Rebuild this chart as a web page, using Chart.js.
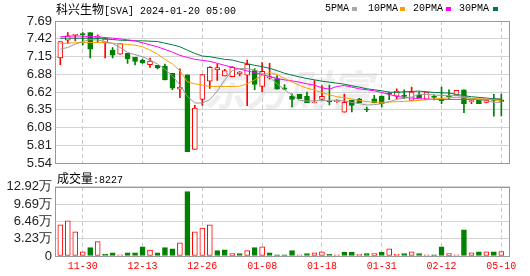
<!DOCTYPE html>
<html lang="zh">
<head>
  <meta charset="UTF-8">
  <title>科兴生物 SVA</title>
  <style>
    body { margin:0; background:#fff; width:530px; height:276px; overflow:hidden; position:relative; }
    .txt { position:absolute; font-family:"Liberation Mono", monospace; font-size:10px; line-height:12px; color:#000; white-space:nowrap; z-index:2; }
    .cjk { font-family:"Noto Sans CJK SC"; font-size:12px; }
    .sq { position:absolute; width:5px; height:4px; top:7px; z-index:2; }
    #kWrap { position:absolute; left:0; top:0; }
    #vWrap { position:absolute; left:0; top:176px; }
  </style>
</head>
<body>
  <div class="txt" style="left:56px; top:3px;"><span class="cjk">科兴生物</span>[SVA] 2024-01-20 05:00</div>
  <div class="txt" style="left:325px; top:3px;">5PMA</div><div class="sq" style="left:352px; background:#a8a8a8;"></div>
  <div class="txt" style="left:368px; top:3px;">10PMA</div><div class="sq" style="left:400px; background:#f5a300;"></div>
  <div class="txt" style="left:413px; top:3px;">20PMA</div><div class="sq" style="left:446px; background:#ff00ff;"></div>
  <div class="txt" style="left:459px; top:3px;">30PMA</div><div class="sq" style="left:493px; background:#007a3d;"></div>
  <div class="txt" style="left:57px; top:172px;"><span class="cjk">成交量</span>:8227</div>

  <div id="kWrap"><canvas id="kChart" width="530" height="174"></canvas></div>
  <div id="vWrap"><canvas id="vChart" width="530" height="100"></canvas></div>

  <script src="https://cdn.jsdelivr.net/npm/chart.js"></script>
  <script>
    const tickIdx = [3, 11, 19, 27, 35, 43, 51, 59]
    const tickLabels = ['11-30', '12-13', '12-26', '01-08', '01-18', '01-31', '02-12', '05-10']

    const priceTicks = [7.69, 7.42125, 7.1525, 6.88375, 6.615, 6.34625, 6.0775, 5.80875, 5.54]
    const priceLabels = ['7.69', '7.42', '7.15', '6.88', '6.62', '6.35', '6.08', '5.81', '5.54']
    const volTicks = [0, 32300, 64600, 96900, 129200]
    const volLabels = ['0', '3.23万', '6.46万', '9.69万', '12.92万']

    const open = [7.13, 7.40, 7.475, 7.495, 7.515, 7.44, 7.36, 7.25, 7.19, 7.20,
      7.14, 7.10, 7.03, 7.02, 7.01, 6.90, 6.66, 6.875, 5.75, 6.505,
      6.78, 6.95, 6.86, 6.85, 6.89, 6.87, 6.94, 6.70, 6.83, 6.82,
      6.67, 6.555, 6.58, 6.55, 6.45, 6.505, 6.475, 6.47, 6.31, 6.49,
      6.515, 6.355, 6.515, 6.555, 6.60, 6.555, 6.56, 6.49, 6.575, 6.505,
      6.545, 6.495, 6.555, 6.565, 6.65, 6.47, 6.49, 6.46, 6.50, 6.50]
    const close = [7.38, 7.465, 7.485, 7.485, 7.265, 7.46, 7.42, 7.175, 7.35, 7.115,
      7.08, 7.055, 7.085, 6.98, 6.80, 6.675, 6.69, 5.715, 6.375, 6.88,
      6.99, 6.985, 6.94, 6.99, 6.92, 7.035, 6.73, 6.93, 6.85, 6.66,
      6.66, 6.505, 6.515, 6.455, 6.465, 6.55, 6.465, 6.48, 6.46, 6.415,
      6.45, 6.345, 6.45, 6.44, 6.585, 6.63, 6.55, 6.615, 6.53, 6.615,
      6.535, 6.485, 6.545, 6.64, 6.44, 6.48, 6.44, 6.49, 6.49, 6.475]
    const high = [7.38, 7.515, 7.49, 7.515, 7.515, 7.48, 7.43, 7.29, 7.35, 7.20,
      7.14, 7.115, 7.13, 7.02, 7.04, 6.90, 6.965, 6.875, 6.415, 6.88,
      7.00, 7.04, 6.96, 7.00, 6.925, 7.10, 6.97, 7.06, 7.05, 6.86,
      6.73, 6.59, 6.58, 6.615, 6.79, 6.715, 6.72, 6.50, 6.585, 6.49,
      6.52, 6.39, 6.565, 6.56, 6.615, 6.665, 6.65, 6.69, 6.615, 6.615,
      6.575, 6.69, 6.65, 6.64, 6.65, 6.49, 6.49, 6.50, 6.58, 6.585]
    const low = [7.03, 7.35, 7.39, 7.33, 7.13, 7.365, 7.13, 7.13, 7.19, 7.05,
      7.025, 7.05, 6.99, 6.965, 6.80, 6.65, 6.53, 5.715, 5.75, 6.415,
      6.67, 6.79, 6.86, 6.85, 6.86, 6.41, 6.65, 6.62, 6.81, 6.66,
      6.65, 6.39, 6.515, 6.455, 6.45, 6.50, 6.42, 6.46, 6.31, 6.315,
      6.45, 6.32, 6.45, 6.39, 6.50, 6.515, 6.515, 6.49, 6.53, 6.505,
      6.495, 6.44, 6.515, 6.565, 6.305, 6.44, 6.44, 6.45, 6.25, 6.255]

    const volume = [58300, 65800, 45300, 8000, 15500, 26700, 3000, 6100, 2400, 6100,
      6100, 17300, 11200, 6100, 15500, 13600, 24800, 120400, 45300, 52200,
      58300, 9900, 11700, 4300, 4300, 9900, 15500, 17300, 6100, 2400,
      2400, 9900, 2400, 4300, 6100, 8000, 3000, 2400, 6700, 6700,
      3000, 4300, 4300, 6700, 13600, 3000, 4300, 8000, 4300, 2400,
      2400, 17300, 4300, 2400, 49000, 6100, 8000, 8000, 8000, 8227]
    // 1 = up on the previous close, 0 = down
    const volUp = [1, 1, 1, 1, 0, 1, 0, 0, 1, 0,
      0, 0, 1, 0, 0, 0, 1, 0, 1, 1,
      1, 0, 0, 1, 0, 1, 0, 1, 0, 0,
      0, 0, 1, 0, 1, 1, 0, 1, 0, 0,
      1, 0, 1, 0, 1, 1, 0, 1, 0, 1,
      0, 0, 1, 1, 0, 1, 0, 1, 0, 1]

    const ma5 = [7.264, 7.29, 7.34, 7.38, 7.41, 7.40, 7.38, 7.35, 7.29, 7.215,
      7.18, 7.15, 7.10, 7.04, 6.96, 6.86, 6.72, 6.55, 6.45, 6.45,
      6.50, 6.63, 6.80, 6.94, 6.97, 6.97, 6.95, 6.90, 6.84, 6.74,
      6.65, 6.57, 6.49, 6.48, 6.485, 6.485, 6.49, 6.495, 6.48, 6.46,
      6.44, 6.42, 6.425, 6.44, 6.47, 6.505, 6.525, 6.54, 6.58, 6.58,
      6.57, 6.565, 6.56, 6.56, 6.55, 6.515, 6.50, 6.485, 6.46, 6.46]
    const ma10 = [7.35, 7.355, 7.36, 7.365, 7.365, 7.365, 7.36, 7.355, 7.345, 7.335,
      7.325, 7.30, 7.25, 7.19, 7.11, 7.04, 6.94, 6.77, 6.74, 6.72,
      6.70, 6.70, 6.70, 6.70, 6.705, 6.74, 6.80, 6.87, 6.91, 6.88,
      6.82, 6.77, 6.715, 6.675, 6.645, 6.61, 6.575, 6.545, 6.53, 6.51,
      6.49, 6.47, 6.465, 6.46, 6.465, 6.47, 6.475, 6.48, 6.49, 6.50,
      6.51, 6.52, 6.53, 6.535, 6.53, 6.52, 6.515, 6.51, 6.50, 6.485]
    const ma20 = [7.45, 7.46, 7.465, 7.46, 7.455, 7.45, 7.44, 7.43, 7.42, 7.405,
      7.39, 7.36, 7.33, 7.30, 7.26, 7.22, 7.17, 7.14, 7.11, 7.095,
      7.08, 7.05, 7.02, 6.99, 6.965, 6.935, 6.91, 6.88, 6.85, 6.82,
      6.80, 6.785, 6.765, 6.74, 6.72, 6.68, 6.66, 6.70, 6.715, 6.69,
      6.665, 6.65, 6.635, 6.61, 6.58, 6.55, 6.535, 6.525, 6.515, 6.51,
      6.505, 6.505, 6.505, 6.505, 6.505, 6.505, 6.505, 6.505, 6.505, 6.505]
    const ma30 = [7.43, 7.43, 7.43, 7.43, 7.43, 7.425, 7.42, 7.41, 7.40, 7.395,
      7.39, 7.39, 7.385, 7.38, 7.355, 7.33, 7.30, 7.25, 7.20, 7.16,
      7.15, 7.13, 7.11, 7.10, 7.07, 7.045, 7.02, 7.00, 6.975, 6.94,
      6.90, 6.87, 6.845, 6.82, 6.80, 6.78, 6.765, 6.75, 6.735, 6.71,
      6.69, 6.665, 6.65, 6.635, 6.615, 6.61, 6.62, 6.625, 6.63, 6.62,
      6.61, 6.605, 6.60, 6.58, 6.56, 6.545, 6.535, 6.525, 6.515, 6.51]

    const RED = '#ff0000'
    const GREEN = '#008000'
    const idx = close.map((c, i) => i)
    const isUp = i => close[i] >= open[i]

    const frame = {
      id: 'frame',
      afterDraw(chart) {
        const { ctx, chartArea: a } = chart
        ctx.save()
        ctx.strokeStyle = '#999'
        ctx.lineWidth = 1
        ctx.strokeRect(Math.round(a.left) + 0.5, Math.round(a.top) + 0.5,
          Math.round(a.right - a.left) - 1, Math.round(a.bottom - a.top))
        ctx.restore()
      }
    }

    const watermark = {
      id: 'watermark',
      beforeDatasetsDraw(chart) {
        const ctx = chart.ctx
        ctx.save()
        ctx.font = 'italic bold 42px "Noto Sans CJK SC"'
        ctx.fillStyle = 'rgba(205,205,215,0.35)'
        ctx.textAlign = 'center'
        ctx.textBaseline = 'middle'
        ctx.fillText('东方财富', 288, 90)
        ctx.restore()
      }
    }

    function xScale(showLabels) {
      return {
        type: 'linear', min: -0.71, max: 60.16, offset: false,
        afterBuildTicks: s => { s.ticks = tickIdx.map(v => ({ value: v })) },
        ticks: {
          display: showLabels, autoSkip: false, maxRotation: 0, padding: 4, color: RED,
          font: { family: 'Liberation Mono', size: 10 },
          callback: (v, i) => tickLabels[i]
        },
        grid: { color: '#c8c8c8', drawTicks: false, offset: false },
        border: { display: false, dash: [4, 3] }
      }
    }

    function yScale(vals, labels) {
      return {
        min: Math.min(...vals),
        max: Math.max(...vals),
        afterBuildTicks: s => { s.ticks = vals.map(v => ({ value: v })) },
        afterFit: s => { s.width = 55 },
        ticks: {
          autoSkip: false, padding: 3, color: '#222',
          font: { family: 'Liberation Sans', size: 13 },
          callback: (v, i) => labels[i]
        },
        grid: { color: '#d4d4d4', drawTicks: false },
        border: { display: false }
      }
    }

    function maLine(label, values, color) {
      return {
        type: 'line', label: label, order: 0,
        data: idx.map(i => ({ x: i, y: values[i] })),
        borderColor: color, borderWidth: 1, pointRadius: 0, tension: 0
      }
    }

    new Chart(document.getElementById('kChart'), {
      type: 'bar',
      data: {
        datasets: [
          maLine('5PMA', ma5, '#9a9a9a'),
          maLine('10PMA', ma10, '#f5a300'),
          maLine('20PMA', ma20, '#ff00ff'),
          maLine('30PMA', ma30, '#007a3d'),
          {
            label: 'body', order: 1, grouped: false, barThickness: 5, minBarLength: 1,
            data: idx.map(i => ({ x: i, y: [open[i], close[i]] })),
            backgroundColor: ctx => isUp(ctx.dataIndex) ? '#fff' : GREEN,
            borderColor: ctx => isUp(ctx.dataIndex) ? RED : GREEN,
            borderWidth: 1, borderSkipped: false
          },
          {
            label: 'wick', order: 2, grouped: false, barThickness: 1,
            data: idx.map(i => ({ x: i, y: [low[i], high[i]] })),
            backgroundColor: ctx => isUp(ctx.dataIndex) ? RED : GREEN
          }
        ]
      },
      options: {
        responsive: false, animation: false,
        layout: { padding: { top: 21, right: 20, bottom: 6, left: 0 } },
        plugins: { legend: { display: false }, tooltip: { enabled: false } },
        scales: { x: xScale(false), y: yScale(priceTicks, priceLabels) }
      },
      plugins: [watermark, frame]
    })

    new Chart(document.getElementById('vChart'), {
      type: 'bar',
      data: {
        datasets: [{
          label: 'volume', grouped: false, barThickness: 5,
          data: idx.map(i => ({ x: i, y: volume[i] })),
          backgroundColor: ctx => volUp[ctx.dataIndex] ? '#fff' : GREEN,
          borderColor: ctx => volUp[ctx.dataIndex] ? RED : GREEN,
          borderWidth: 1, borderSkipped: false
        }]
      },
      options: {
        responsive: false, animation: false,
        layout: { padding: { top: 10, right: 20, bottom: 0, left: 0 } },
        plugins: { legend: { display: false }, tooltip: { enabled: false } },
        scales: { x: xScale(true), y: yScale(volTicks, volLabels) }
      },
      plugins: [frame]
    })
  </script>
</body>
</html>
